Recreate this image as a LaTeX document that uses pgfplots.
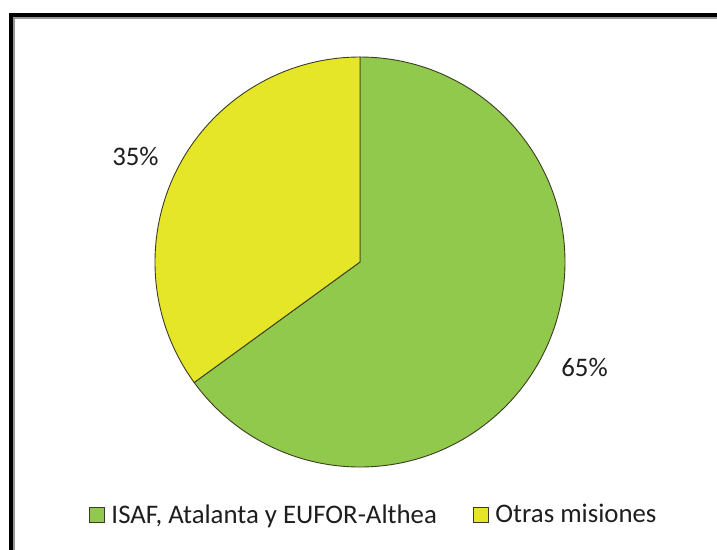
\documentclass[border=0pt]{standalone}
\usepackage{pgfplots}
\pgfplotsset{compat=1.18}
\usepackage{pgfplotstable}
\usetikzlibrary{calc}
\usepackage{fontspec}
\setmainfont{Carlito}
\definecolor{pgreen}{RGB}{144,201,76}
\definecolor{pyellow}{RGB}{230,230,40}
\definecolor{pedge}{RGB}{60,60,35}
\definecolor{ptext}{RGB}{30,30,30}
\definecolor{pgrey}{RGB}{150,150,150}
\pgfplotstableread{
label value
ISAF 65
Otras 35
}\piedata
\pgfplotstablegetelem{0}{value}\of\piedata\let\va\pgfplotsretval
\pgfplotstablegetelem{1}{value}\of\piedata\let\vb\pgfplotsretval
\pgfmathsetmacro\angA{90-3.6*\va}
\pgfmathsetmacro\angB{\angA-3.6*\vb}
\pgfmathsetmacro\midA{90-1.8*\va}
\pgfmathsetmacro\midB{\angA-1.8*\vb}
\pgfmathsetmacro\lax{252*cos(\midA)}
\pgfmathsetmacro\lay{232*sin(\midA)}
\pgfmathsetmacro\lbx{252*cos(\midB)}
\pgfmathsetmacro\lby{232*sin(\midB)}
\begin{document}
\begin{tikzpicture}
\begin{axis}[
  at={(0,0)}, anchor=south west,
  scale only axis, width=717bp, height=550bp,
  xmin=0, xmax=717, ymin=0, ymax=550, y dir=reverse,
  hide axis, clip=false,
  font=\fontsize{26.8bp}{31bp}\selectfont,
  legend columns=2,
  legend style={draw=none, fill=none, at={(axis cs:89,514.5)}, anchor=west,
    inner sep=0pt, outer sep=0pt, text=ptext, column sep=0pt,
    font=\fontsize{26.8bp}{31bp}\selectfont,
    nodes={inner sep=0pt},
    /tikz/every even column/.append style={column sep=36bp}},
  legend image code/.code={\filldraw[#1] (0bp,-7.5bp) rectangle (15bp,7.5bp); \path[draw=none,fill=none] (0bp,0bp) -- (22bp,0bp);},
]
\addlegendimage{draw=pedge, line width=1bp, fill=pgreen}
\addlegendentry{ISAF, Atalanta y EUFOR-Althea}
\addlegendimage{draw=pedge, line width=1bp, fill=pyellow}
\addlegendentry{Otras misiones}
% frame
\fill[black] (axis cs:9,13) rectangle (axis cs:13,550);
\fill[black] (axis cs:9,13) rectangle (axis cs:717,17);
\fill[pgrey] (axis cs:13,17) rectangle (axis cs:15,550);
\fill[pgrey] (axis cs:13,17) rectangle (axis cs:717,18.5);
% pie
\filldraw[fill=pgreen, draw=pedge, line width=0.9bp] (axis cs:360,262) -- ++(90:205bp) arc[start angle=90, end angle=\angA, radius=205bp] -- cycle;
\filldraw[fill=pyellow, draw=pedge, line width=0.9bp] (axis cs:360,262) -- ++(\angA:205bp) arc[start angle=\angA, end angle=\angB, radius=205bp] -- cycle;
\node[text=ptext] at ($(axis cs:360,262)+(\lax bp,\lay bp)$) {\va\%};
\node[text=ptext] at ($(axis cs:360,262)+(\lbx bp,\lby bp)$) {\vb\%};
\end{axis}
\pgfresetboundingbox
\useasboundingbox (0,0) rectangle (717bp,550bp);
\end{tikzpicture}
\end{document}
